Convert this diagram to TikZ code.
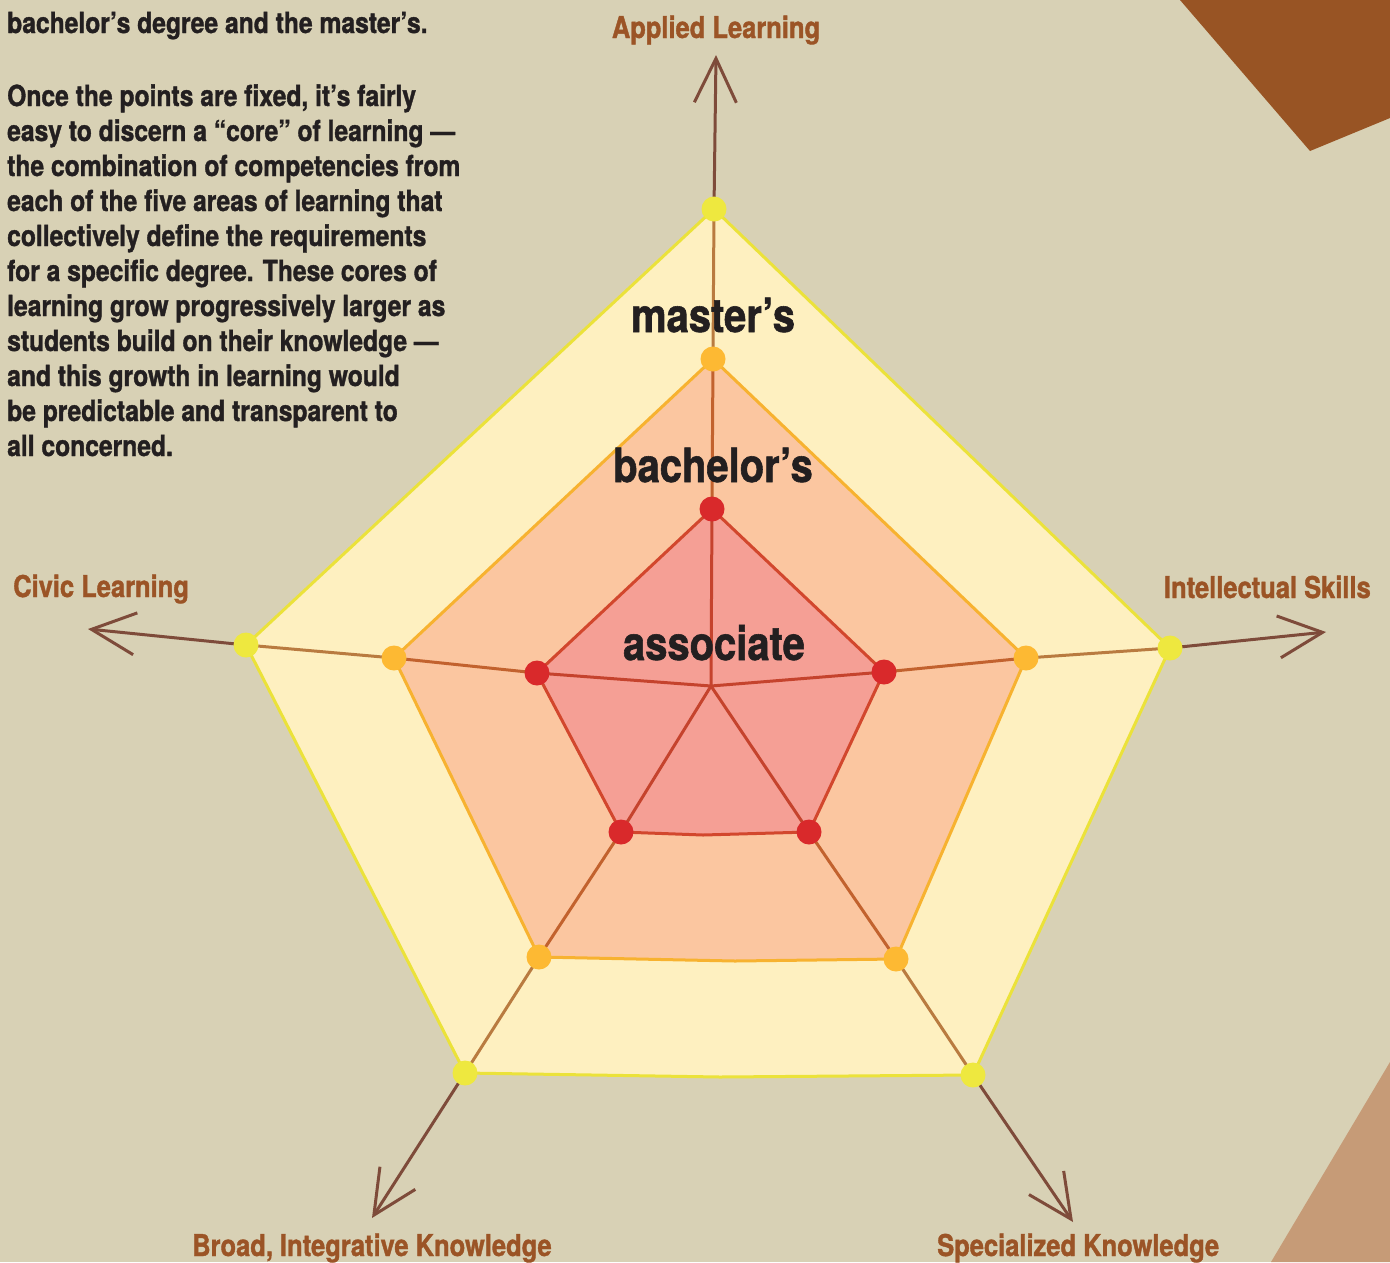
\documentclass[tikz,border=0pt]{standalone}
\usepackage{fontspec}
\setmainfont{TeX Gyre Heros}[FakeStretch=0.85, BoldFeatures={FakeBold=1.2}]
\usetikzlibrary{arrows.meta}
\definecolor{bg}{HTML}{D8D1B5}
\definecolor{darkbrown}{HTML}{985424}
\definecolor{lightbrown}{HTML}{C69B77}
\definecolor{yfill}{HTML}{FEF0C0}
\definecolor{ystroke}{HTML}{EBE23A}
\definecolor{ofill}{HTML}{FBC6A0}
\definecolor{ostroke}{HTML}{F7B230}
\definecolor{rfill}{HTML}{F59F95}
\definecolor{rstroke}{HTML}{D2472D}
\definecolor{rdotc}{HTML}{D9292B}
\definecolor{odotc}{HTML}{FDB933}
\definecolor{ydotc}{HTML}{EEE83F}
\definecolor{axisr}{HTML}{C5432D}
\definecolor{axiso}{HTML}{C2622E}
\definecolor{axisy}{HTML}{B97B40}
\definecolor{axisout}{HTML}{7E4B3A}
\definecolor{labelc}{HTML}{9B5426}
\definecolor{textc}{HTML}{231F20}
\tikzset{
  dotbase/.style={circle, inner sep=0pt, minimum size=25pt, draw=none},
  rdot/.style={dotbase, fill=rdotc},
  odot/.style={dotbase, fill=odotc},
  ydot/.style={dotbase, fill=ydotc},
  axline/.style={line width=3pt, line cap=round},
  arrowline/.style={line width=3pt, color=axisout, -{Straight Barb[length=44pt, width=42pt]}},
  body/.style={inner sep=0pt, font=\bfseries\fontsize{29}{35}\selectfont, text=textc},
  axlabel/.style={inner sep=0pt, font=\bfseries\fontsize{30}{35}\selectfont, text=labelc},
  degree/.style={inner sep=0pt, font=\bfseries\fontsize{47}{50}\selectfont, text=textc},
}
\begin{document}
\begin{tikzpicture}[x=1pt,y=-1pt]
\useasboundingbox (0,0) rectangle (1390,1262);
\fill[bg] (0,0) rectangle (1390,1262);
% corner shapes
\fill[darkbrown] (1180,0) -- (1310,151) -- (1390,118) -- (1390,0) -- cycle;
\fill[lightbrown] (1390,1062) -- (1271,1262) -- (1390,1262) -- cycle;

% coordinates
\coordinate (c) at (711,686);
\coordinate (r1) at (712,509);
\coordinate (r2) at (884,672);
\coordinate (r3) at (809,832);
\coordinate (r4) at (621,832);
\coordinate (r5) at (537,673);
\coordinate (rm) at (703,835);
\coordinate (o1) at (713,359);
\coordinate (o2) at (1026,658);
\coordinate (o3) at (896,959);
\coordinate (o4) at (539,957);
\coordinate (o5) at (394,658);
\coordinate (om) at (735,961);
\coordinate (y1) at (714,209);
\coordinate (y2) at (1170,648);
\coordinate (y3) at (973,1075);
\coordinate (y4) at (465,1073);
\coordinate (y5) at (246,645);
\coordinate (ym) at (720,1077);
\coordinate (a1) at (716,55);
\coordinate (a2) at (1326,632);
\coordinate (a3) at (1073,1222);
\coordinate (a4) at (372,1218);
\coordinate (a5) at (88,629);

% polygons
\draw[fill=yfill, draw=ystroke, line width=3pt, line join=round]
  (y1) -- (y2) -- (y3) -- (ym) -- (y4) -- (y5) -- cycle;
\draw[fill=ofill, draw=ostroke, line width=3pt, line join=round]
  (o1) -- (o2) -- (o3) -- (om) -- (o4) -- (o5) -- cycle;
\draw[fill=rfill, draw=rstroke, line width=3pt, line join=round]
  (r1) -- (r2) -- (r3) -- (rm) -- (r4) -- (r5) -- cycle;

% axes
\foreach \i in {1,...,5}{
  \draw[axline, axisr] (c) -- (r\i);
  \draw[axline, axiso] (r\i) -- (o\i);
  \draw[axline, axisy] (o\i) -- (y\i);
  \draw[arrowline] (y\i) -- (a\i);
}

% dots
\foreach \i in {1,...,5}{
  \node[ydot] (yd\i) at (y\i) {};
  \node[odot] (od\i) at (o\i) {};
  \node[rdot] (rd\i) at (r\i) {};
}

% degree labels
\node[degree, anchor=base] (masters) at (713,332) {master’s};
\node[degree, anchor=base] (bachelors) at (713,482) {bachelor’s};
\node[degree, anchor=base] (associate) at (714,660) {associate};

% axis labels
\node[axlabel, anchor=base] (applied) at (716,38) {Applied Learning};
\node[axlabel, anchor=base west] (civic) at (13,597) {Civic Learning};
\node[axlabel, anchor=base east] (intellectual) at (1371,598) {Intellectual Skills};
\node[axlabel, anchor=base west] (broad) at (192,1256) {Broad, Integrative Knowledge};
\node[axlabel, anchor=base west] (special) at (937,1256) {Specialized Knowledge};

% body text
\node[body, anchor=base west] (line0) at (7,33) {bachelor’s degree and the master’s.};
\foreach \txt [count=\i] in {
  {Once the points are fixed, it’s fairly},
  {easy to discern a “core” of learning —},
  {the combination of competencies from},
  {each of the five areas of learning that},
  {collectively define the requirements},
  {for a specific degree. These cores of},
  {learning grow progressively larger as},
  {students build on their knowledge —},
  {and this growth in learning would},
  {be predictable and transparent to},
  {all concerned.}}{
  \node[body, anchor=base west] (line\i) at (7,{106+35*(\i-1)}) {\txt};
}
\end{tikzpicture}
\end{document}
